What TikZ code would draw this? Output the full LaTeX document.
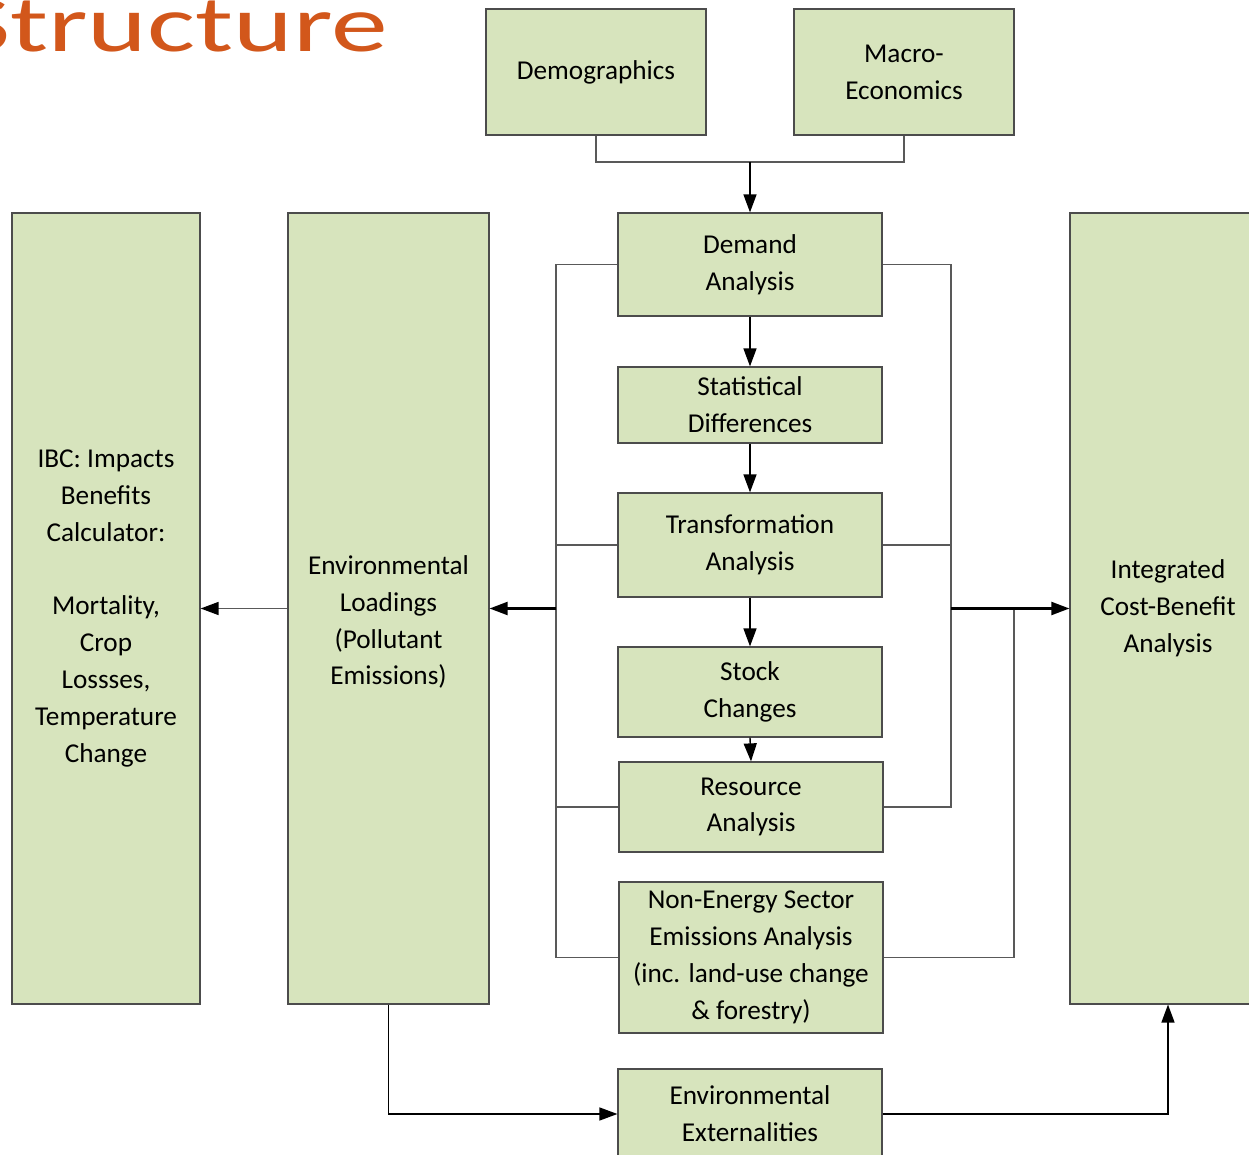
\documentclass[tikz,border=0pt]{standalone}
\usepackage{fontspec}
\setmainfont{Carlito}
\usetikzlibrary{positioning, calc, arrows.meta}

\definecolor{boxgreen}{HTML}{D7E4BD}
\definecolor{titleorange}{HTML}{D2571B}

\begin{document}
\begin{tikzpicture}[
  x=0.02cm, y=-0.02cm,
  box/.style     = {draw=black!70, line width=0.7pt, fill=boxgreen, align=center,
                    font=\fontsize{15.5}{21}\selectfont, inner sep=0pt},
  mid/.style     = {box, minimum width=5.28cm},
  tall/.style    = {box, minimum height=15.82cm},
  wire/.style    = {draw=black!65, line width=0.75pt},
  arr/.style     = {-{Triangle[length=3.6mm, width=2.6mm, color=black]}, line width=0.8pt},
  busarr/.style  = {arr, line width=1.2pt},
  txt/.style     = {align=center, font=\fontsize{15.5}{21}\selectfont},
]

\useasboundingbox (0,0) rectangle (1249,1155);
\clip (0,0) rectangle (1249,1155);

% ---- slide title (cut off) ---------------------------------------------------
\node[anchor=base east, inner sep=0pt, text=titleorange,
      font=\fontsize{45.5}{50}\selectfont] (ttl) at (388,52)
  {\scalebox{1.42}[1]{Structure}};

% ---- drivers (top) -----------------------------------------------------------
\node[box, minimum width=4.4cm, minimum height=2.52cm] (demo) at (596,72)
  {Demographics};
\node[box, minimum width=4.4cm, minimum height=2.52cm] (macro) at (904,72)
  {Macro-\\Economics};

% ---- energy chain (middle) ---------------------------------------------------
\node[mid, minimum height=2.06cm] (dem)   at (750,264.5) {Demand\\Analysis};
\node[mid, minimum height=1.52cm] (stat)  at (750,405)   {Statistical\\Differences};
\node[mid, minimum height=2.08cm] (trans) at (750,545)   {Transformation\\Analysis};
\node[mid, minimum height=1.8cm]  (stock) at (750,692)   {Stock\\Changes};
\node[mid, minimum height=1.8cm]  (res)   at (751,807)   {Resource\\Analysis};
\node[mid, minimum height=3.02cm] (nonen) at (751,957.5)
  {Non-Energy Sector\\Emissions Analysis\\(inc. land-use change\\\& forestry)};
\node[mid, minimum height=1.8cm]  (ext)   at (750,1114)
  {Environmental\\Externalities};

% ---- tall columns ------------------------------------------------------------
\node[tall, minimum width=3.76cm] (ibc) at (106,608.5)
  {IBC: Impacts\\Benefits\\Calculator:\\[21pt]Mortality,\\Crop\\Lossses,\\Temperature\\Change};
\node[tall, minimum width=4.02cm] (loads) at (388.5,608.5) {};
\node[txt] (loadstxt) at (388.5,622)
  {Environmental\\Loadings\\(Pollutant\\Emissions)};
\node[tall, minimum width=3.92cm] (icba) at (1168,608.5)
  {Integrated\\Cost-Benefit\\Analysis};

% bus junctions
\coordinate (join) at (750,162);
\coordinate (lbus) at (556,608.5);
\coordinate (rbus) at (951,608.5);
\coordinate (rbus2) at (1014,608.5);

% drivers -> demand
\draw[wire] (demo.south) |- (join) -| (macro.south);
\draw[arr] (join) -- (dem.north);

% chain
\draw[arr] (dem.south) -- (stat.north);
\draw[arr] (stat.south) -- (trans.north);
\draw[arr] (trans.south) -- (stock.north);
\draw[arr] (stock.south) -- (res.north);

% left bus -> loadings
\draw[wire] (dem.west) -| (lbus |- nonen.west) -- (nonen.west);
\draw[wire] (trans.west) -- (lbus |- trans.west);
\draw[wire] (res.west) -- (lbus |- res.west);
\draw[busarr] (lbus) -- (loads.east);

% right bus -> cost-benefit
\draw[wire] (dem.east) -| (rbus |- res.east) -- (res.east);
\draw[wire] (trans.east) -- (rbus |- trans.east);
\draw[wire] (nonen.east) -| (rbus2);
\draw[busarr] (rbus) -- (icba.west);

% loadings -> impacts, externalities
\draw[arr, draw=black!65] (loads.west) -- (ibc.east);
\draw[arr] (loads.south) |- (ext.west);
\draw[arr] (ext.east) -| (icba.south);

\end{tikzpicture}
\end{document}
